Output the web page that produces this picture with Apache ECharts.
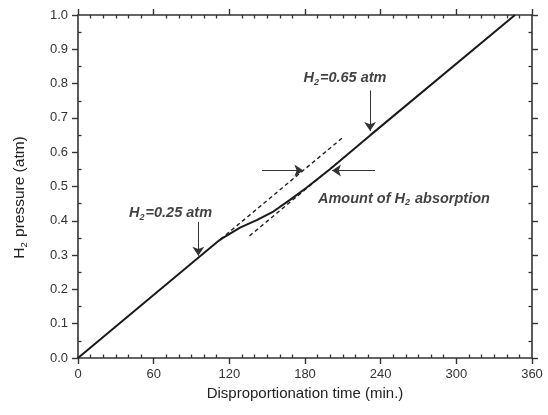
<!DOCTYPE html>
<html><head><meta charset="utf-8">
<script src="https://cdn.jsdelivr.net/npm/echarts@6/dist/echarts.min.js"></script>
<style>html,body{margin:0;padding:0;background:#fff}#c{width:548px;height:415px}</style>
</head><body><div id="c"></div>
<script>
// ---- data ----
const xTickValues = [0, 60, 120, 180, 240, 300, 360];
const yTickValues = [0.0, 0.1, 0.2, 0.3, 0.4, 0.5, 0.6, 0.7, 0.8, 0.9, 1.0];
const curveTime = [0, 112, 115, 128.5, 141.7, 154.9, 168.1, 181.4, 200, 231.6, 346.5];
const curvePressure = [0, 0.343, 0.350, 0.380, 0.402, 0.427, 0.461, 0.497, 0.551, 0.649, 1.0];
const upperDashTime = [113, 210];
const upperDashPressure = [0.346, 0.643];
const lowerDashTime = [136, 205];
const lowerDashPressure = [0.356, 0.567];
const arrowStartTime = [95.4, 231.6, 145.9, 235.5];
const arrowStartPressure = [0.397, 0.78, 0.547, 0.547];
const arrowEndTime = [95.4, 231.6, 178.7, 201.4];
const arrowEndPressure = [0.298, 0.662, 0.547, 0.547];
const noteTime = [73.4, 211.7];
const notePressure = [0.423, 0.816];
const noteTexts = ['0.25', '0.65'];
const absorbNoteTime = 190.3, absorbNotePressure = 0.465;

// ---- chart ----
const F = '"Liberation Sans", Arial, sans-serif';
const AX = '#333';
const zip = (a, b) => a.map((v, i) => [v, b[i]]);
const xMin = xTickValues[0], xMax = xTickValues[xTickValues.length - 1];
const xInt = xTickValues[1] - xTickValues[0];
const yMin = yTickValues[0], yMax = yTickValues[yTickValues.length - 1];
const yInt = 0.1;

function mkAxis(kind, position, major) {
  const isX = kind === 'x';
  return {
    type: 'value', position: position,
    min: isX ? xMin : yMin, max: isX ? xMax : yMax, interval: isX ? xInt : yInt,
    splitLine: { show: false },
    axisLine: { show: major, onZero: false, lineStyle: { color: AX, width: 1.6 } },
    axisLabel: { show: false },
    axisTick: major ? { show: true, inside: false, length: 6, lineStyle: { color: AX, width: 1.4 } }
                    : { show: false, inside: true },
    minorTick: major ? { show: false }
                     : { show: true, splitNumber: isX ? 6 : 2, length: 3.5, lineStyle: { color: AX, width: 1.3 } }
  };
}
const xBottom = mkAxis('x', 'bottom', true);
xBottom.axisLabel = { show: true, fontSize: 13, color: '#333', fontFamily: F, margin: 10 };
xBottom.name = 'Disproportionation time (min.)';
xBottom.nameLocation = 'middle';
xBottom.nameGap = 28;
xBottom.nameTextStyle = { fontSize: 15, color: '#222', fontFamily: F };

const yLeft = mkAxis('y', 'left', true);
yLeft.axisLabel = { show: true, fontSize: 13, color: '#333', fontFamily: F, margin: 10,
  formatter: v => v.toFixed(1) };
yLeft.name = '{m|H}{s|2}{m| pressure (atm)}';
yLeft.nameLocation = 'middle';
yLeft.nameGap = 49;
yLeft.nameTextStyle = { fontSize: 15, color: '#222', fontFamily: F, padding: [0, 0, 0, -22],
  rich: { m: { fontSize: 15.5, color: '#222', fontFamily: F },
          s: { fontSize: 9.5, color: '#222', fontFamily: F, padding: [8, 1, 0, 0] } } };

const richNote = {
  m: { fontSize: 14.5, fontWeight: 'bold', fontStyle: 'italic', color: '#111', fontFamily: F },
  s: { fontSize: 9, fontWeight: 'bold', fontStyle: 'italic', color: '#111', fontFamily: F, padding: [9, 1, 0, 0] }
};

const arrowsData = arrowStartTime.map((t, i) => ({
  coords: [[t, arrowStartPressure[i]], [arrowEndTime[i], arrowEndPressure[i]]]
}));

const option = {
  animation: false,
  backgroundColor: '#fff',
  grid: { left: 78, right: 16, top: 15, bottom: 57 },
  xAxis: [xBottom, mkAxis('x', 'bottom', false), mkAxis('x', 'top', true), mkAxis('x', 'top', false)],
  yAxis: [yLeft, mkAxis('y', 'left', false), mkAxis('y', 'right', true), mkAxis('y', 'right', false)],
  series: [
    { type: 'line', xAxisIndex: 0, yAxisIndex: 0, data: zip(curveTime, curvePressure),
      showSymbol: false, symbol: 'none', lineStyle: { color: '#1a1a1a', width: 2 }, z: 5 },
    { type: 'line', xAxisIndex: 0, yAxisIndex: 0, data: zip(upperDashTime, upperDashPressure),
      symbol: 'none', lineStyle: { color: '#222', width: 1.4, type: [4, 3] } },
    { type: 'line', xAxisIndex: 0, yAxisIndex: 0, data: zip(lowerDashTime, lowerDashPressure),
      symbol: 'none', lineStyle: { color: '#222', width: 1.4, type: [4, 3] } },
    { type: 'lines', coordinateSystem: 'cartesian2d', xAxisIndex: 0, yAxisIndex: 0,
      symbol: ['none', 'arrow'], symbolSize: [5, 9],
      lineStyle: { color: '#333', width: 1, opacity: 1, curveness: 0 },
      data: arrowsData, z: 6 },
    { type: 'scatter', xAxisIndex: 0, yAxisIndex: 0, symbolSize: 0,
      data: noteTime.map((t, i) => ({ value: [t, notePressure[i]],
        label: { show: true, position: 'inside',
          formatter: '{m|H}{s|2}{m|=' + noteTexts[i] + ' atm}', rich: richNote } })),
      z: 7 },
    { type: 'scatter', xAxisIndex: 0, yAxisIndex: 0, symbolSize: 0,
      data: [{ value: [absorbNoteTime, absorbNotePressure],
        label: { show: true, position: 'right', distance: 0,
          formatter: '{m|Amount of H}{s|2}{m| absorption}', rich: richNote } }],
      z: 7 }
  ]
};
const chart = echarts.init(document.getElementById('c'), null, { renderer: 'canvas' });
chart.setOption(option);
</script>
</body></html>
